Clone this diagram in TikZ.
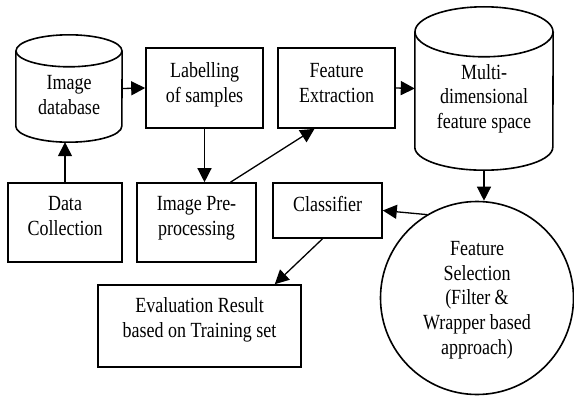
\documentclass[tikz,border=0pt]{standalone}
\usepackage{fontspec}
\setmainfont{Liberation Serif}
\usetikzlibrary{arrows.meta}
\newcommand\talltext[1]{\scalebox{1}[1.2]{\begin{tabular}{@{}c@{}}#1\end{tabular}}}
\begin{document}
\begin{tikzpicture}[x=1pt,y=-1pt,
  every node/.style={font=\fontsize{18}{20.5}\selectfont, align=center, inner sep=0pt},
  stepbox/.style={draw, line width=1.6pt, rectangle},
  cylbox/.style={rectangle},
  cylline/.style={line width=1.6pt},
  arr/.style={line width=1.3pt, -{Triangle[length=14pt,width=14pt]}}]
\useasboundingbox (0,0) rectangle (574,396);
% cylinders (outline drawn from their named nodes)
\node[cylbox, minimum width=106, minimum height=107] (db) at (69,88.5) {};
\node[cylbox, minimum width=138, minimum height=163] (mfs) at (484,88.5) {};
\draw[cylline] ([yshift=-16pt]db.north) ellipse[x radius=53pt, y radius=16pt];
\draw[cylline] ([yshift=-16pt]db.north west) -- ([yshift=16pt]db.south west)
  arc[start angle=180, end angle=360, x radius=53pt, y radius=16pt]
  -- ([yshift=-16pt]db.north east);
\draw[cylline] ([yshift=-25pt]mfs.north) ellipse[x radius=69pt, y radius=25pt];
\draw[cylline] ([yshift=-25pt]mfs.north west) -- ([yshift=23pt]mfs.south west)
  arc[start angle=180, end angle=360, x radius=69pt, y radius=23pt]
  -- ([yshift=-25pt]mfs.north east);
\node (dbt) at (69,97) {\talltext{Image\\database}};
\node (mft) at (484,99) {\talltext{Multi-\\dimensional\\feature space}};
% boxes
\node[stepbox, minimum width=114, minimum height=79] (dc) at (65,222.5) {};
\node at (65,218) {\talltext{Data\\Collection}};
\node[stepbox, minimum width=117, minimum height=80] (lab) at (204.5,88) {};
\node at (204.5,85) {\talltext{Labelling\\of samples}};
\node[stepbox, minimum width=117, minimum height=80] (fe) at (336.5,88) {};
\node at (336.5,85) {\talltext{Feature\\Extraction}};
\node[stepbox, minimum width=119, minimum height=79] (pre) at (196.5,222.5) {};
\node at (196.5,218) {\talltext{Image Pre-\\processing}};
\node[stepbox, minimum width=109, minimum height=55] (cls) at (327.5,210.5) {};
\node at (327.5,207) {\talltext{Classifier}};
\node[stepbox, minimum width=203, minimum height=82] (ev) at (199.5,326) {};
\node at (199.5,320) {\talltext{Evaluation Result\\based on Training set}};
\node[draw, circle, line width=1.6pt, minimum size=193] (fsel) at (477,298) {};
\node at (477,300) {\talltext{Feature\\Selection\\(Filter \&\\Wrapper based\\approach)}};
% connectors
\draw[arr] (dc.north) -- (dc.north |- db.south);
\draw[arr] (db.east) -- (lab.west);
\draw[arr] (lab.south) -- (lab.south |- pre.north);
\draw[arr] ([xshift=34]pre.north) -- ([xshift=-22]fe.south);
\draw[arr] (fe.east) -- (mfs.west);
\draw[arr] (mfs.south) -- (mfs.south |- fsel.north);
\draw[arr] (fsel.121) -- (cls.east);
\draw[arr] ([xshift=-5]cls.south) -- ([xshift=-27]ev.north east);
\end{tikzpicture}
\end{document}
